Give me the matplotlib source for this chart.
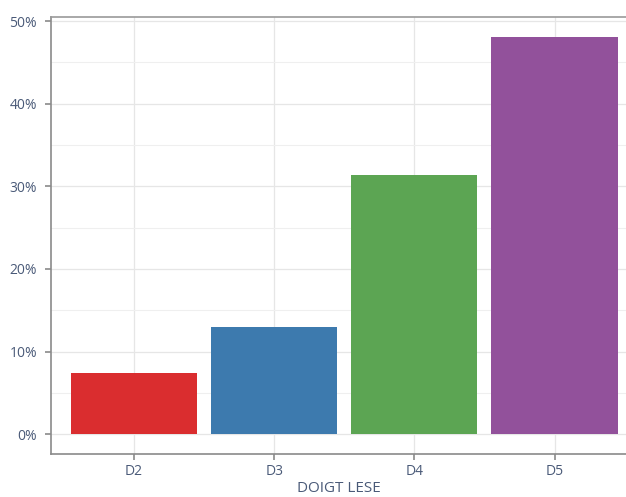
import matplotlib
matplotlib.use("Agg")
import matplotlib.pyplot as plt
from matplotlib.ticker import MultipleLocator, PercentFormatter

categories = ["D2", "D3", "D4", "D5"]
shares = [7.4, 12.95, 31.4, 48.1]
bar_colors = ["#DA2D2F", "#3D7AAE", "#5CA553", "#92519B"]

text_col = "#4A5A78"
plt.rcParams['font.family'] = ['Open Sans', 'DejaVu Sans']

fig = plt.figure(figsize=(6.26, 4.97), dpi=100)
ax = fig.add_axes([0.0815, 0.0865, 0.9185, 0.8793])

x = range(len(categories))
ax.bar(x, shares, width=0.9, color=bar_colors, zorder=3)

ax.set_xlim(-0.593, 3.51)
ax.set_ylim(-2.4, 50.5)
ax.set_xticks(list(x))
ax.set_xticklabels(categories)
ax.yaxis.set_major_locator(MultipleLocator(10))
ax.yaxis.set_minor_locator(MultipleLocator(5))
ax.yaxis.set_major_formatter(PercentFormatter(decimals=0))

ax.grid(True, which='major', color='#e6e6e6', linewidth=0.9, zorder=0)
ax.grid(True, which='minor', axis='y', color='#efefef', linewidth=0.8, zorder=0)

for s in ['left', 'bottom']:
	ax.spines[s].set_color('#8a8a8a')
	ax.spines[s].set_linewidth(1.2)
ax.spines['top'].set_color('#9a9a9a')
ax.spines['top'].set_linewidth(1.2)
ax.spines['right'].set_visible(False)

ax.tick_params(which='major', colors='#8a8a8a', labelcolor=text_col, labelsize=10, length=4, width=1.2)
ax.tick_params(which='minor', length=0)
ax.tick_params(axis='y', pad=6)

ax.set_xlabel("DOIGT LESE", color=text_col, fontsize=11, labelpad=1)

plt.savefig("out.png", dpi=100)
